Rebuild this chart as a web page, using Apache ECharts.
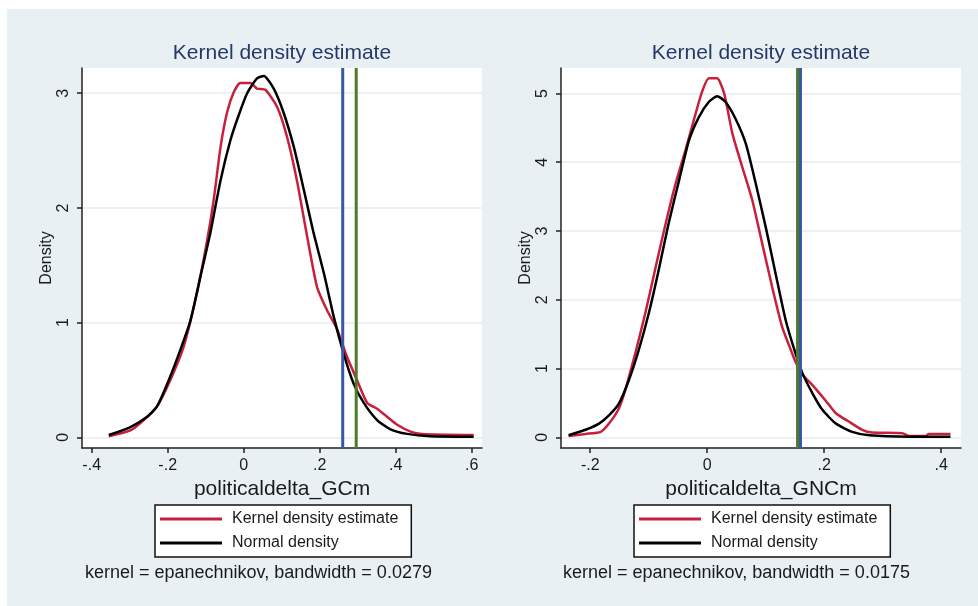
<!DOCTYPE html>
<html>
<head>
<meta charset="utf-8">
<title>Kernel density estimate</title>
<script src="https://cdn.jsdelivr.net/npm/echarts@6/dist/echarts.min.js"></script>
<style>
  html, body { margin: 0; padding: 0; background: #fff; }
  #backdrop { position: absolute; left: 7px; top: 9px; width: 971px; height: 597px; background: #e8f0f3; }
  #chart { position: absolute; left: 0; top: 0; width: 978px; height: 606px; }
</style>
</head>
<body>
<div id="backdrop"></div>
<div id="chart"></div>
<script>
// left panel: politicaldelta_GCm
const gcKdeX = [-0.355, -0.298, -0.263, -0.228, -0.193, -0.158, -0.123, -0.096, -0.079, -0.061, -0.044, -0.026, -0.009, 0.018, 0.035, 0.057, 0.088, 0.114, 0.140, 0.167, 0.193, 0.219, 0.246, 0.272, 0.298, 0.325, 0.351, 0.377, 0.404, 0.439, 0.469, 0.605]
const gcKdeY = [0.01, 0.06, 0.15, 0.27, 0.50, 0.79, 1.26, 1.72, 2.07, 2.53, 2.83, 3.01, 3.09, 3.09, 3.04, 3.03, 2.88, 2.62, 2.24, 1.75, 1.31, 1.11, 0.94, 0.70, 0.50, 0.30, 0.25, 0.18, 0.11, 0.05, 0.03, 0.02]
const gcNormX = [-0.355, -0.298, -0.254, -0.228, -0.197, -0.167, -0.140, -0.114, -0.088, -0.061, -0.035, -0.013, 0.009, 0.035, 0.053, 0.079, 0.105, 0.132, 0.158, 0.184, 0.211, 0.237, 0.263, 0.289, 0.316, 0.351, 0.386, 0.430, 0.491, 0.605]
const gcNormY = [0.02, 0.09, 0.18, 0.27, 0.50, 0.76, 1.02, 1.40, 1.78, 2.24, 2.59, 2.81, 3.00, 3.13, 3.15, 3.04, 2.83, 2.53, 2.16, 1.78, 1.43, 1.05, 0.73, 0.47, 0.30, 0.15, 0.07, 0.03, 0.01, 0.006]
const gcBlueX = 0.2605
const gcGreenX = 0.296

// right panel: politicaldelta_GNCm
const gncKdeX = [-0.237, -0.208, -0.182, -0.168, -0.151, -0.140, -0.123, -0.106, -0.088, -0.071, -0.054, -0.037, -0.023, -0.009, 0.003, 0.017, 0.029, 0.043, 0.060, 0.077, 0.094, 0.111, 0.128, 0.143, 0.151, 0.163, 0.180, 0.202, 0.220, 0.242, 0.265, 0.282, 0.334, 0.345, 0.374, 0.379, 0.416]
const gncKdeY = [0.02, 0.05, 0.08, 0.20, 0.42, 0.69, 1.22, 1.80, 2.48, 3.11, 3.69, 4.18, 4.61, 5.02, 5.22, 5.22, 5.00, 4.42, 3.93, 3.45, 2.82, 2.19, 1.61, 1.27, 1.10, 0.91, 0.76, 0.54, 0.35, 0.23, 0.11, 0.07, 0.06, 0.02, 0.02, 0.05, 0.05]
const gncNormX = [-0.237, -0.208, -0.185, -0.168, -0.151, -0.134, -0.117, -0.100, -0.083, -0.066, -0.048, -0.031, -0.014, 0.003, 0.017, 0.031, 0.048, 0.066, 0.083, 0.100, 0.117, 0.134, 0.151, 0.163, 0.180, 0.197, 0.220, 0.248, 0.277, 0.345, 0.416]
const gncNormY = [0.03, 0.11, 0.20, 0.32, 0.49, 0.83, 1.27, 1.80, 2.43, 3.11, 3.74, 4.32, 4.66, 4.88, 4.96, 4.88, 4.64, 4.27, 3.69, 3.06, 2.38, 1.71, 1.22, 0.93, 0.64, 0.40, 0.20, 0.08, 0.03, 0.01, 0.01]
const gncBlueX = 0.1595
const gncGreenX = 0.1545

const gcXTicks = [-0.4, -0.2, 0, 0.2, 0.4, 0.6]
const gcYTicks = [0, 1, 2, 3]
const gncXTicks = [-0.2, 0, 0.2, 0.4]
const gncYTicks = [0, 1, 2, 3, 4, 5]

const seriesNames = ['Kernel density estimate', 'Normal density']
const titleText = 'Kernel density estimate'
const xNames = ['politicaldelta_GCm', 'politicaldelta_GNCm']
const notes = ['kernel = epanechnikov, bandwidth = 0.0279', 'kernel = epanechnikov, bandwidth = 0.0175']

const FONT = '"Liberation Sans", Arial, sans-serif'
const RED = '#c8203c'
const BLUE = '#3a56a8'
const GREEN = '#4e7a2a'
const INK = '#1a1a1a'

// axis ranges [xmin, xmax, ymin, ymax]
const gcRange = [-0.4255, 0.627, -0.093, 3.22]
const gncRange = [-0.25, 0.434, -0.155, 5.37]

function zip (xs, ys) {
  return xs.map((x, i) => [x, ys[i]])
}

function fmtTick (v) {
  if (v === 0) return '0'
  return String(v).replace('0.', '.')
}

function xAxisFor (idx, range, ticks) {
  return {
    type: 'value',
    gridIndex: idx,
    min: range[0],
    max: range[1],
    name: xNames[idx],
    nameLocation: 'middle',
    nameGap: 30,
    nameTextStyle: { fontFamily: FONT, fontSize: 21, color: INK },
    axisLine: { show: true, onZero: false, lineStyle: { color: '#222', width: 1.5 } },
    axisTick: { show: true, length: 5, customValues: ticks, lineStyle: { color: '#222', width: 1.5 } },
    axisLabel: { customValues: ticks, margin: 10, fontFamily: FONT, fontSize: 16, color: INK, formatter: fmtTick },
    splitLine: { show: false }
  }
}

function yAxisFor (idx, range, ticks) {
  return {
    type: 'value',
    gridIndex: idx,
    min: range[2],
    max: range[3],
    name: 'Density',
    nameLocation: 'middle',
    nameGap: 27,
    nameTextStyle: { fontFamily: FONT, fontSize: 16, color: INK },
    axisLine: { show: true, onZero: false, lineStyle: { color: '#222', width: 1.5 } },
    axisTick: { show: true, length: 5, customValues: ticks, lineStyle: { color: '#222', width: 1.5 } },
    axisLabel: { customValues: ticks, rotate: 90, margin: 10, fontFamily: FONT, fontSize: 16, color: INK },
    splitLine: { show: true, lineStyle: { color: '#e6eef1', width: 1.5 } }
  }
}

function curve (name, idx, data, color) {
  return {
    name: name,
    type: 'line',
    xAxisIndex: idx,
    yAxisIndex: idx,
    data: data,
    showSymbol: false,
    smooth: 0.2,
    color: color,
    lineStyle: { color: color, width: 2.5 },
    animation: false
  }
}

// full-height vertical reference line
function vline (name, idx, x, range, color) {
  return {
    name: name,
    type: 'line',
    xAxisIndex: idx,
    yAxisIndex: idx,
    data: [[x, range[2]], [x, range[3]]],
    showSymbol: false,
    silent: true,
    color: color,
    lineStyle: { color: color, width: 3 },
    animation: false
  }
}

function legendFor (left) {
  return {
    left: left,
    top: 505,
    orient: 'vertical',
    data: seriesNames,
    icon: 'rect',
    itemWidth: 62,
    itemHeight: 3,
    itemGap: 8,
    padding: [6, 13, 6, 5],
    borderColor: '#111',
    borderWidth: 1.5,
    backgroundColor: '#fff',
    selectedMode: false,
    textStyle: { fontFamily: FONT, fontSize: 16, color: INK, padding: [0, 0, 0, 5] }
  }
}

function textEl (x, y, text, size, color, align) {
  return {
    type: 'text',
    x: x,
    y: y,
    style: { text: text, fontFamily: FONT, fontSize: size, fill: color, textAlign: align, textVerticalAlign: 'middle' }
  }
}

const chart = echarts.init(document.getElementById('chart'), null, { renderer: 'canvas' })

chart.setOption({
  animation: false,
  backgroundColor: 'transparent',
  grid: [
    { left: 82, top: 68, width: 400, height: 380, show: true, backgroundColor: '#fff', borderWidth: 0 },
    { left: 561, top: 68, width: 400, height: 380, show: true, backgroundColor: '#fff', borderWidth: 0 }
  ],
  xAxis: [
    xAxisFor(0, gcRange, gcXTicks),
    xAxisFor(1, gncRange, gncXTicks)
  ],
  yAxis: [
    yAxisFor(0, gcRange, gcYTicks),
    yAxisFor(1, gncRange, gncYTicks)
  ],
  legend: [legendFor(155), legendFor(634)],
  graphic: [
    textEl(282, 53, titleText, 21, '#26386a', 'center'),
    textEl(761, 53, titleText, 21, '#26386a', 'center'),
    textEl(85, 573, notes[0], 18, INK, 'left'),
    textEl(563, 573, notes[1], 18, INK, 'left')
  ],
  series: [
    curve(seriesNames[0], 0, zip(gcKdeX, gcKdeY), RED),
    curve(seriesNames[1], 0, zip(gcNormX, gcNormY), '#000'),
    vline('gc-blue', 0, gcBlueX, gcRange, BLUE),
    vline('gc-green', 0, gcGreenX, gcRange, GREEN),
    curve(seriesNames[0], 1, zip(gncKdeX, gncKdeY), RED),
    curve(seriesNames[1], 1, zip(gncNormX, gncNormY), '#000'),
    vline('gnc-blue', 1, gncBlueX, gncRange, BLUE),
    vline('gnc-green', 1, gncGreenX, gncRange, GREEN)
  ]
})
</script>
</body>
</html>
